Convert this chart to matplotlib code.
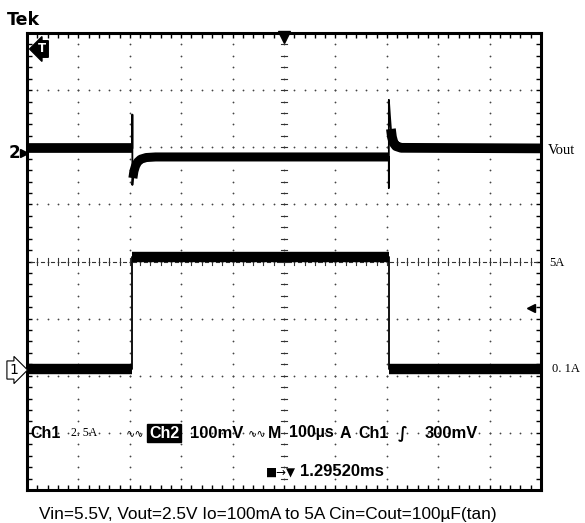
import numpy as np
import matplotlib.pyplot as plt

# time axis in microseconds (100us/div, 10 div on screen)
t_vout = [0, 205, 205, 205, 206, 208, 211, 215, 221, 232, 250, 704, 704, 704, 706, 708, 710, 713, 718, 728, 1000]
vout_mv = [0, 0, 59, -64, -52, -40, -31, -24, -19, -16, -15, -15, -69, 85, 58, 34, 20, 10, 4, 1, 0]

t_io = [0, 205, 205, 704, 704, 1000]
io_amp = [0.1, 0.1, 5.0, 5.0, 0.1, 0.1]

ch1_scale = 2.5      # A/div
ch2_scale = 100      # mV/div
ch1_pos = -1.92      # div of 0A
ch2_pos = 1.98       # div of Vout nominal

W, H = 585, 523
fig = plt.figure(figsize=(W / 100, H / 100), dpi=100)
fig.patch.set_facecolor('white')

def fx(x):
    return x / W

def fy(y):
    return 1 - y / H

ax = fig.add_axes([fx(27), fy(490), (541 - 27) / W, (490 - 33) / H])
ax.set_xlim(0, 10)
ax.set_ylim(-4, 4)

# graticule dots
fine_x = np.arange(0, 10.01, 0.2)
fine_y = np.arange(-4, 4.01, 0.2)
for gy in range(-3, 4):
    ax.plot(fine_x, np.full(len(fine_x), gy), ls='none', marker='o', ms=1.3, color='#444444', mec='none')
for gx in range(1, 10):
    ax.plot(np.full(len(fine_y), gx), fine_y, ls='none', marker='o', ms=1.3, color='#444444', mec='none')
# center crosshair ticks
for v in np.arange(0, 10.01, 0.2):
    ax.plot([v, v], [-0.06, 0.06], color='#333333', lw=0.8)
for v in np.arange(0.1, 10, 0.2):
    ax.plot([v - 0.03, v + 0.03], [0, 0], color='#333333', lw=0.8)
for v in np.arange(-4, 4.01, 0.2):
    ax.plot([4.94, 5.06], [v, v], color='#333333', lw=0.8)

# traces
xv = np.array(t_vout) / 100
yv = ch2_pos + np.array(vout_mv) / ch2_scale
xi = np.array(t_io) / 100
yi = ch1_pos + np.array(io_amp) / ch1_scale

ax.plot(xv, yv, color='black', lw=1.3)
for a, b, w in [(0, 2, 7), (4, 12, 6.5), (15, len(xv), 7)]:
    ax.plot(xv[a:b], yv[a:b], color='black', lw=w, solid_capstyle='butt')
ax.plot(xi, yi, color='black', lw=1.3)
for a, b in [(0, 2), (2, 4), (4, 6)]:
    ax.plot(xi[a:b], yi[a:b], color='black', lw=7.5, solid_capstyle='butt')

# frame
ax.set_xticks(range(0, 11))
ax.set_yticks(range(-4, 5))
ax.set_xticks(fine_x, minor=True)
ax.set_yticks(fine_y, minor=True)
ax.tick_params(which='both', direction='in', top=True, right=True, length=3.5, width=1,
               labelbottom=False, labelleft=False)
for s in ax.spines.values():
    s.set_linewidth(2.2)

# markers
ax.plot([5], [3.93], marker='v', ms=8, color='black', clip_on=False)
ax.plot([9.8], [-0.81], marker='<', ms=6, color='black')
ax.text(0.3, 3.72, 'T', color='white', fontsize=8.5, fontweight='bold', ha='center', va='center',
        bbox=dict(boxstyle='larrow,pad=0.15', fc='black', ec='black'))

fig.text(fx(9), fy(153), '2', fontsize=12, fontweight='bold', ha='left', va='center')
ax.plot([-0.05], [1.9], marker='>', ms=6, color='black', clip_on=False)
fig.text(fx(9), fy(370), '1', fontsize=10, ha='left', va='center',
         bbox=dict(boxstyle='rarrow,pad=0.15', fc='white', ec='black', lw=0.8))

fig.text(fx(7), fy(20), 'Tek', fontsize=12.5, fontweight='bold', ha='left', va='center')

serif = 'Liberation Serif'
fig.text(fx(548), fy(150), 'Vout', fontsize=10.5, family=serif, ha='left', va='center')
fig.text(fx(549), fy(263), '5A', fontsize=9, family=serif, ha='left', va='center')
fig.text(fx(552), fy(369), '0. 1A', fontsize=9, family=serif, ha='left', va='center')

# readout
fam = ['Liberation Sans', 'DejaVu Sans']
fs = 11.5
ry = fy(433)
fig.text(fx(30), ry, 'Ch1', fontsize=fs, fontweight='bold', family=fam, va='center')
fig.text(fx(71), ry, '2. 5A', fontsize=8.5, family=serif, va='center')
fig.text(fx(126), ry, '\u223f\u223f', fontsize=8, family=['DejaVu Sans'], va='center')
fig.text(fx(149), ry, 'Ch2', fontsize=fs, fontweight='bold', family=fam, va='center', color='white',
         bbox=dict(boxstyle='square,pad=0.1', fc='black', ec='black'))
fig.text(fx(190), ry, '100mV', fontsize=fs + 0.5, fontweight='bold', family=fam, va='center')
fig.text(fx(248), ry, '\u223f\u223f', fontsize=8, family=['DejaVu Sans'], va='center')
fig.text(fx(268), ry, 'M', fontsize=fs, fontweight='bold', family=fam, va='center')
fig.text(fx(289), ry, '100\u00b5s', fontsize=fs, fontweight='bold', family=fam, va='center')
fig.text(fx(340), ry, 'A', fontsize=fs, fontweight='bold', family=fam, va='center')
fig.text(fx(358), ry, 'Ch1', fontsize=fs, fontweight='bold', family=fam, va='center')
fig.text(fx(398), ry, '\u222b', fontsize=fs, fontweight='bold', family=['DejaVu Sans'], va='center')
fig.text(fx(425), ry, '300mV', fontsize=fs + 0.5, fontweight='bold', family=fam, va='center')
fig.text(fx(266), fy(472), '\u25a0\u2192\u25bc', fontsize=8.5, family=['DejaVu Sans'], va='center')
fig.text(fx(300), fy(472), '1.29520ms', fontsize=fs + 0.5, fontweight='bold', family=fam, va='center')

fig.text(fx(268), fy(514), 'Vin=5.5V, Vout=2.5V Io=100mA to 5A Cin=Cout=100\u00b5F(tan)',
         fontsize=12.4, family=fam, ha='center', va='center')

fig.savefig('out.png', dpi=100)
